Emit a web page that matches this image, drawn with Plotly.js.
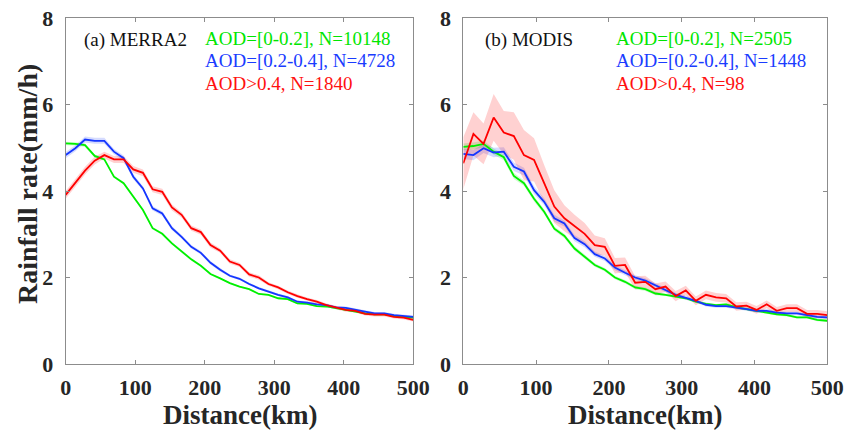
<!DOCTYPE html>
<html>
<head>
<meta charset="utf-8">
<script src="https://cdn.plot.ly/plotly-3.0.1.min.js"></script>
<style>html,body{margin:0;padding:0;background:#fff;}#chart{width:851px;height:435px;}</style>
</head>
<body>
<div id="chart"></div>
<script>
// Distance bins (km)
const distance = [0,13.9,27.8,41.7,55.6,69.4,83.3,97.2,111.1,125,138.9,152.8,166.7,180.6,194.4,208.3,222.2,236.1,250,263.9,277.8,291.7,305.6,319.4,333.3,347.2,361.1,375,388.9,402.8,416.7,430.6,444.4,458.3,472.2,486.1,500];

// (a) MERRA2
const merraLow  = [5.10,5.09,5.06,4.81,4.73,4.33,4.18,3.87,3.56,3.14,3.01,2.79,2.60,2.42,2.27,2.08,1.98,1.87,1.79,1.73,1.62,1.60,1.52,1.50,1.40,1.39,1.34,1.33,1.29,1.25,1.21,1.17,1.15,1.15,1.11,1.09,1.07];
const merraMid  = [4.83,4.99,5.19,5.16,5.16,4.91,4.76,4.33,4.06,3.60,3.48,3.14,2.94,2.71,2.57,2.34,2.18,2.04,1.97,1.85,1.75,1.67,1.60,1.54,1.44,1.42,1.38,1.36,1.31,1.30,1.25,1.21,1.17,1.17,1.13,1.11,1.09];
const merraHigh = [3.91,4.19,4.47,4.70,4.83,4.73,4.73,4.50,4.42,4.04,3.98,3.62,3.45,3.14,3.05,2.75,2.62,2.37,2.29,2.07,2.00,1.85,1.77,1.66,1.57,1.50,1.44,1.36,1.30,1.25,1.23,1.16,1.14,1.14,1.09,1.07,1.02];
const merraLowErr  = [0.04,0.04,0.04,0.04,0.03,0.03,0.03,0.03,0.03,0.03,0.03,0.03,0.03,0.03,0.02,0.02,0.02,0.02,0.02,0.02,0.02,0.02,0.02,0.02,0.02,0.02,0.02,0.02,0.02,0.02,0.02,0.02,0.02,0.02,0.02,0.02,0.02];
const merraMidErr  = [0.07,0.07,0.07,0.07,0.07,0.06,0.06,0.06,0.05,0.05,0.05,0.05,0.04,0.04,0.04,0.04,0.04,0.03,0.03,0.03,0.03,0.03,0.03,0.03,0.03,0.03,0.03,0.03,0.03,0.03,0.03,0.03,0.03,0.03,0.03,0.03,0.03];
const merraHighErr = [0.09,0.09,0.09,0.09,0.08,0.08,0.08,0.08,0.08,0.07,0.07,0.07,0.06,0.06,0.06,0.06,0.05,0.05,0.05,0.05,0.05,0.04,0.04,0.04,0.04,0.04,0.04,0.04,0.04,0.04,0.04,0.04,0.04,0.04,0.04,0.04,0.04];

// (b) MODIS
const modisLow  = [5.02,5.04,5.09,4.91,4.78,4.35,4.18,3.82,3.52,3.13,2.96,2.67,2.48,2.29,2.18,2.00,1.90,1.77,1.73,1.63,1.60,1.56,1.52,1.44,1.39,1.36,1.38,1.31,1.27,1.23,1.19,1.15,1.13,1.08,1.08,1.02,1.00];
const modisMid  = [4.86,4.83,4.99,4.89,4.91,4.56,4.45,4.02,3.75,3.37,3.25,2.91,2.77,2.54,2.44,2.23,2.11,2.00,1.93,1.82,1.71,1.60,1.53,1.46,1.37,1.34,1.34,1.31,1.27,1.23,1.23,1.19,1.17,1.17,1.13,1.09,1.08];
const modisHigh = [4.64,5.32,5.09,5.70,5.35,5.27,4.83,4.72,4.18,3.64,3.37,3.18,3.01,2.75,2.71,2.27,2.29,1.88,1.90,1.73,1.79,1.57,1.70,1.46,1.60,1.54,1.52,1.33,1.35,1.25,1.38,1.23,1.29,1.29,1.16,1.16,1.13];
const modisLowErr  = [0.08,0.08,0.08,0.07,0.07,0.07,0.06,0.06,0.06,0.05,0.05,0.05,0.05,0.04,0.04,0.04,0.04,0.04,0.04,0.04,0.03,0.03,0.03,0.03,0.03,0.03,0.03,0.03,0.03,0.03,0.03,0.03,0.03,0.03,0.03,0.03,0.03];
const modisMidErr  = [0.12,0.12,0.11,0.11,0.10,0.10,0.09,0.09,0.08,0.08,0.07,0.07,0.07,0.06,0.06,0.06,0.06,0.05,0.05,0.05,0.05,0.05,0.05,0.04,0.04,0.04,0.04,0.04,0.04,0.04,0.04,0.04,0.04,0.04,0.04,0.04,0.04];
const modisHighErr = [0.60,0.50,0.47,0.54,0.50,0.55,0.58,0.50,0.42,0.38,0.30,0.27,0.25,0.22,0.20,0.18,0.17,0.15,0.14,0.13,0.12,0.12,0.11,0.10,0.10,0.10,0.10,0.10,0.09,0.09,0.09,0.09,0.09,0.09,0.09,0.09,0.09];

const seriesLabelsA = ['AOD=[0-0.2], N=10148','AOD=[0.2-0.4], N=4728','AOD>0.4, N=1840'];
const seriesLabelsB = ['AOD=[0-0.2], N=2505','AOD=[0.2-0.4], N=1448','AOD>0.4, N=98'];
const panelTitles = ['(a) MERRA2','(b) MODIS'];
const yTicks = [0,2,4,6,8];
const xTicks = [0,100,200,300,400,500];

const lineColors = ['#00f000','#1436ff','#ff0000'];
const bandColors = ['rgba(0,230,0,0.18)','rgba(20,54,255,0.18)','rgba(255,0,0,0.18)'];
const textColors = ['#00e600','#1a3cff','#ff1010'];

const W = 851, H = 435;
const px = v => v / W;
const py = v => 1 - v / H;

const traces = [];
function addPanel(vals, errs, xa, ya) {
  vals.forEach((v, i) => {
    const up = v.map((d, j) => d + errs[i][j]);
    const lo = v.map((d, j) => d - errs[i][j]);
    traces.push({
      x: distance.concat(distance.slice().reverse()),
      y: up.concat(lo.slice().reverse()),
      fill: 'toself', fillcolor: bandColors[i], line: {width: 0},
      mode: 'lines', hoverinfo: 'skip', showlegend: false, xaxis: xa, yaxis: ya
    });
  });
  vals.forEach((v, i) => {
    traces.push({
      x: distance, y: v, mode: 'lines',
      line: {color: lineColors[i], width: 1.8},
      showlegend: false, xaxis: xa, yaxis: ya
    });
  });
}
addPanel([merraLow, merraMid, merraHigh], [merraLowErr, merraMidErr, merraHighErr], 'x', 'y');
addPanel([modisLow, modisMid, modisHigh], [modisLowErr, modisMidErr, modisHighErr], 'x2', 'y2');

const tickFont = {family: 'Liberation Serif, Times New Roman, serif', size: 22, color: '#262626', weight: 'bold'};
const axisCommon = {
  showline: true, mirror: 'ticks', linecolor: '#8c8c8c', linewidth: 1,
  ticks: 'inside', ticklen: 4, tickcolor: '#8c8c8c', tickwidth: 1,
  showgrid: false, zeroline: false, tickfont: tickFont, fixedrange: true
};

const yDom = [py(364), py(18)];
const layout = {
  width: W, height: H,
  margin: {l: 0, r: 0, t: 0, b: 0},
  paper_bgcolor: '#fff', plot_bgcolor: '#fff',
  showlegend: false,
  xaxis: Object.assign({}, axisCommon, {domain: [px(65.7), px(413.3)], range: [0, 500], tickvals: xTicks, anchor: 'y', ticklabelstandoff: 4}),
  yaxis: Object.assign({}, axisCommon, {domain: yDom, range: [0, 8], tickvals: yTicks, anchor: 'x', ticklabelstandoff: 7}),
  xaxis2: Object.assign({}, axisCommon, {domain: [px(463.3), px(827.3)], range: [0, 500], tickvals: xTicks, anchor: 'y2', ticklabelstandoff: 4}),
  yaxis2: Object.assign({}, axisCommon, {domain: yDom, range: [0, 8], tickvals: yTicks, anchor: 'x2', ticklabelstandoff: 7}),
  annotations: []
};

const serif = 'Liberation Serif, Times New Roman, serif';
function ann(text, x, y, opts) {
  layout.annotations.push(Object.assign({
    text: text, xref: 'paper', yref: 'paper', x: px(x), y: py(y),
    xanchor: 'left', yanchor: 'middle', showarrow: false,
    font: {family: serif, size: 19, color: '#111'}
  }, opts || {}));
}
ann(panelTitles[0], 82, 40);
ann(panelTitles[1], 483, 40);
seriesLabelsA.forEach((t, i) => ann(t, 203, 39 + 22 * i, {font: {family: serif, size: 19, color: textColors[i]}}));
seriesLabelsB.forEach((t, i) => ann(t, 614, 39 + 22 * i, {font: {family: serif, size: 19, color: textColors[i]}}));

const titleFont = {family: serif, size: 27, color: '#262626', weight: 'bold'};
ann('Distance(km)', 239.5, 415, {xanchor: 'center', font: titleFont});
ann('Distance(km)', 645.3, 415, {xanchor: 'center', font: titleFont});
ann('Rainfall rate(mm/h)', 27, 184, {xanchor: 'center', textangle: -90, font: Object.assign({}, titleFont, {size: 28})});

Plotly.newPlot('chart', traces, layout, {staticPlot: true, displayModeBar: false});
</script>
</body>
</html>
